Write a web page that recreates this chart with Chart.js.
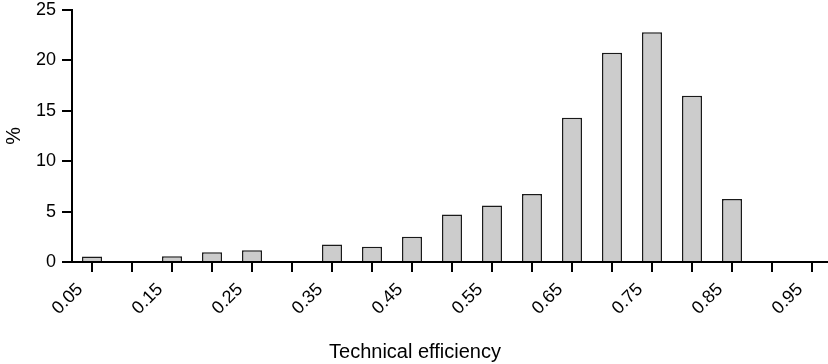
<!DOCTYPE html>
<html>
<head>
<meta charset="utf-8">
<script src="https://cdn.jsdelivr.net/npm/chart.js@4.4.0/dist/chart.umd.min.js"></script>
<style>
    html, body { margin: 0; padding: 0; background: #fff; }
    #wrap { width: 828px; height: 364px; }
</style>
</head>
<body>
<div id="wrap"><canvas id="effChart"></canvas></div>
<script>
"use strict";
// bin centres of the efficiency histogram (bins are 0.05 wide)
const binCentres = [0.075, 0.125, 0.175, 0.225, 0.275, 0.325, 0.375, 0.425, 0.475,
    0.525, 0.575, 0.625, 0.675, 0.725, 0.775, 0.825, 0.875];
// share of farms in each bin, %
const sharePct = [0.55, 0, 0.57, 0.97, 1.17, 0, 1.73, 1.5, 2.5,
    4.7, 5.6, 6.75, 14.3, 20.75, 22.8, 16.5, 6.25];
// labels shown on every second tick of the x axis
const xTickLabels = ['0.05', '0.15', '0.25', '0.35', '0.45', '0.55', '0.65', '0.75', '0.85', '0.95'];

const fontFamily = "'Liberation Sans', Arial, Helvetica, sans-serif";
const tickFont = { family: fontFamily, size: 18 };
const titleFont = { family: fontFamily, size: 20, weight: 'normal' };

const points = binCentres.map((x, i) => ({ x: x, y: sharePct[i] }));

const ctx = document.getElementById('effChart').getContext('2d');
new Chart(ctx, {
    type: 'bar',
    data: {
        datasets: [{
            label: '%',
            data: points,
            backgroundColor: '#cccccc',
            borderColor: '#1a1a1a',
            borderWidth: 1.5,
            barPercentage: 0.5,
            categoryPercentage: 1.0
        }]
    },
    options: {
        responsive: true,
        maintainAspectRatio: false,
        animation: false,
        layout: { padding: { left: 2, right: 0, top: 0, bottom: 0 } },
        plugins: {
            legend: { display: false },
            tooltip: { enabled: false },
            title: {
                display: true,
                position: 'bottom',
                text: 'Technical efficiency',
                color: '#000',
                font: titleFont,
                padding: { top: 14, bottom: 0 }
            }
        },
        scales: {
            x: {
                type: 'linear',
                min: 0.05,
                max: 0.995,
                offset: false,
                afterBuildTicks: scale => {
                    scale.ticks = scale.ticks.filter(t => t.value < 0.951);
                },
                ticks: {
                    stepSize: 0.05,
                    autoSkip: false,
                    maxRotation: 45,
                    minRotation: 45,
                    color: '#000',
                    font: tickFont,
                    padding: 7,
                    labelOffset: 8,
                    callback: (value, index) => index % 2 === 0 ? xTickLabels[index / 2] : ''
                },
                grid: { drawOnChartArea: false, drawTicks: true, tickLength: 10, color: '#000', lineWidth: 2 },
                border: { color: '#000', width: 2 }
            },
            y: {
                min: 0,
                max: 25,
                // keep the plot top close to the "25" label
                afterFit: scale => { scale.paddingTop = 10; },
                ticks: { stepSize: 5, color: '#000', font: tickFont, padding: 6 },
                grid: { drawOnChartArea: false, drawTicks: true, tickLength: 10, color: '#000', lineWidth: 2 },
                border: { color: '#000', width: 2 },
                title: { display: true, text: '%', color: '#000', font: titleFont, padding: { top: 0, bottom: 4 } }
            }
        }
    }
});
</script>
</body>
</html>
